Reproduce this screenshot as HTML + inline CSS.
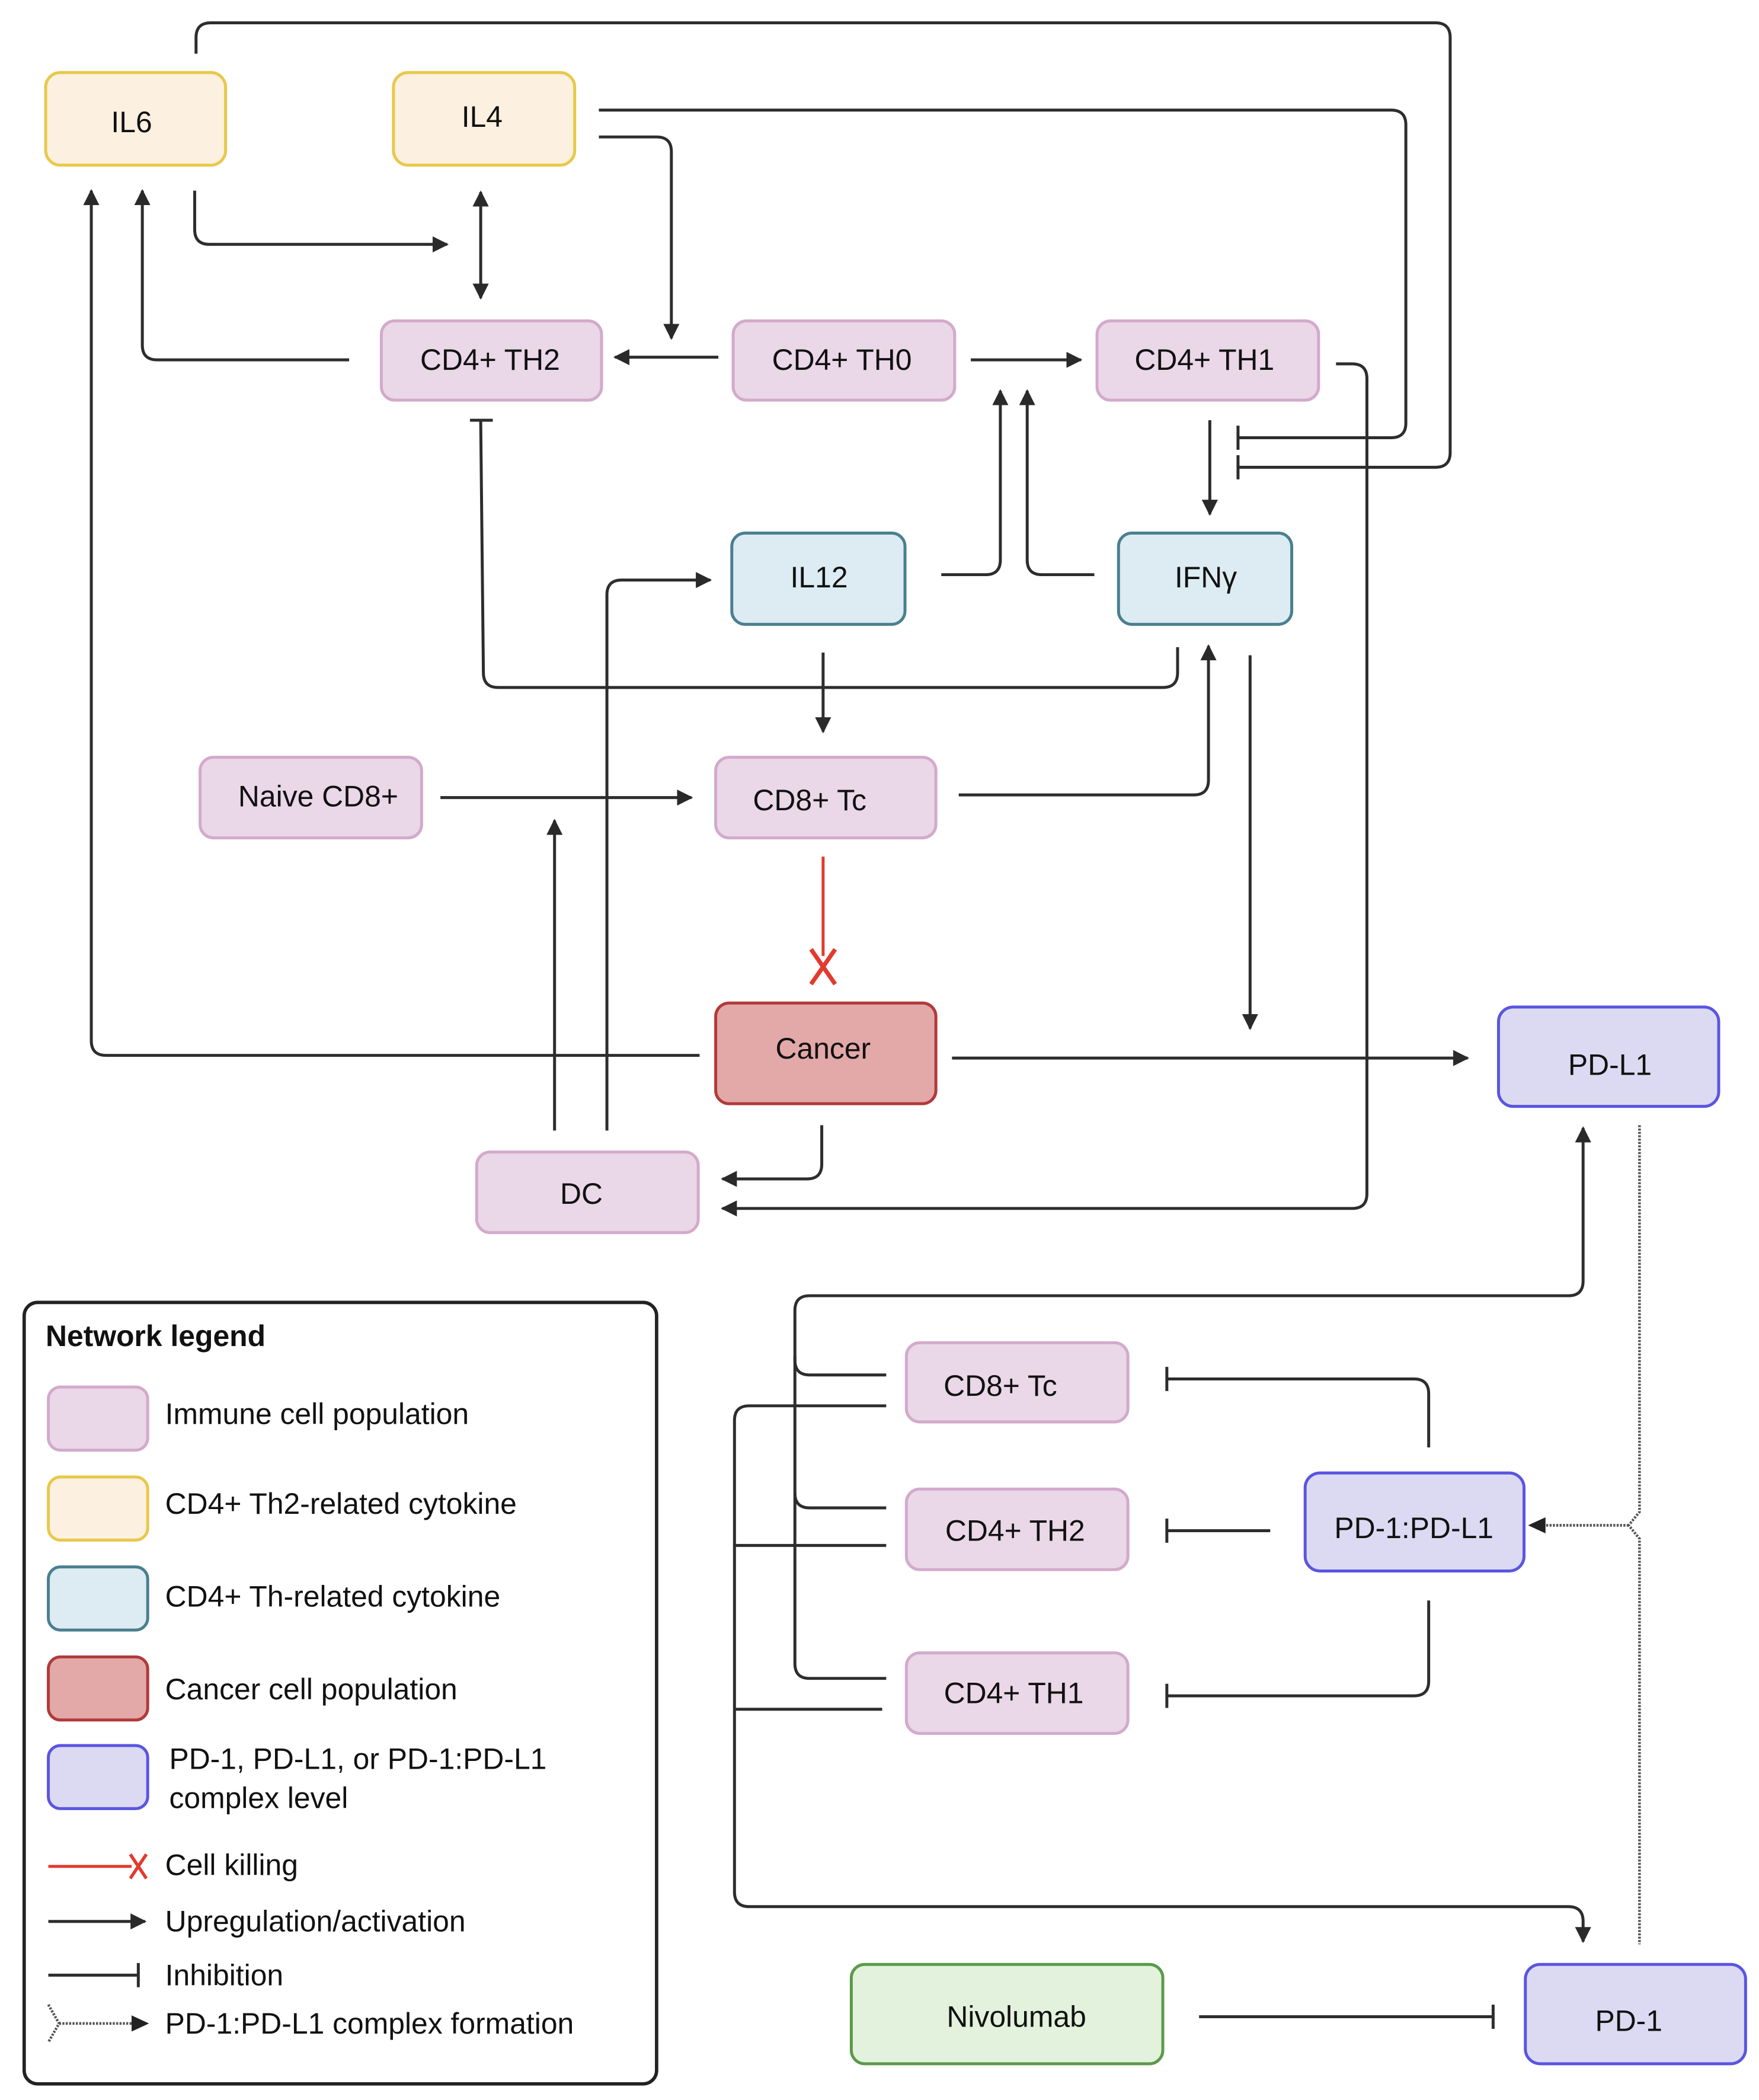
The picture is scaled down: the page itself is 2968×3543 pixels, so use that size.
<!DOCTYPE html>
<html><head><meta charset="utf-8"><style>
html,body{margin:0;padding:0;background:#fff}
svg{display:block}
text{font-family:"Liberation Sans",sans-serif;fill:#111}
</style></head><body>
<svg width="2968" height="3543" viewBox="0 0 1310 1564" preserveAspectRatio="none" xmlns="http://www.w3.org/2000/svg">
<defs>
<marker id="A" viewBox="0 0 10 10" refX="9" refY="5" markerWidth="12" markerHeight="12" orient="auto-start-reverse" markerUnits="userSpaceOnUse"><path d="M0,0L10,5L0,10z" fill="#2a2a2a"/></marker>
</defs>
<style>
.l{fill:none;stroke:#2d2d2d;stroke-width:2.2;stroke-linejoin:round}
.t{font-size:22px;text-anchor:middle;dominant-baseline:central}
.lg{font-size:22px;dominant-baseline:central}
</style>

<g class="l">
<path d="M146,40 V28 Q146,17 157,17 H1069 Q1080,17 1080,28 V337 Q1080,348 1069,348 H922"/>
<path d="M922,339 V357"/>
<path d="M446,82 H1036 Q1047,82 1047,93 V315 Q1047,326 1036,326 H922"/>
<path d="M922,317 V335"/>
<path d="M446,102 H489 Q500,102 500,113 V252" marker-end="url(#A)"/>
<path d="M145,142 V171 Q145,182 156,182 H333" marker-end="url(#A)"/>
<path d="M358,143 V222" marker-start="url(#A)" marker-end="url(#A)"/>
<path d="M260,268 H117 Q106,268 106,257 V142" marker-end="url(#A)"/>
<path d="M535,266 H458" marker-end="url(#A)"/>
<path d="M723,268 H805" marker-end="url(#A)"/>
<path d="M901,313 V383" marker-end="url(#A)"/>
<path d="M995,271 H1007 Q1018,271 1018,282 V889 Q1018,900 1007,900 H538" marker-end="url(#A)"/>
<path d="M701,428 H734 Q745,428 745,417 V291" marker-end="url(#A)"/>
<path d="M815,428 H776 Q765,428 765,417 V291" marker-end="url(#A)"/>
<path d="M877,482 V501 Q877,512 866,512 H371 Q360,512 360,501 L358,313"/>
<path d="M350,313 H367"/>
<path d="M613,486 V545" marker-end="url(#A)"/>
<path d="M328,594 H515" marker-end="url(#A)"/>
<path d="M413,842 V611" marker-end="url(#A)"/>
<path d="M452,842 V443 Q452,432 463,432 H529" marker-end="url(#A)"/>
<path d="M714,592 H889 Q900,592 900,581 V481" marker-end="url(#A)"/>
<path d="M931,488 V766" marker-end="url(#A)"/>
<path d="M521,786 H79 Q68,786 68,775 V142" marker-end="url(#A)"/>
<path d="M709,788 H1093" marker-end="url(#A)"/>
<path d="M612,838 V867 Q612,878 601,878 H538" marker-end="url(#A)"/>
<path d="M660,1024 H603 Q592,1024 592,1013 V976 Q592,965 603,965 H1168 Q1179,965 1179,954 V840" marker-end="url(#A)"/>
<path d="M592,1010 V1239 Q592,1250 603,1250 H660"/>
<path d="M592,1112 Q592,1123 603,1123 H660"/>
<path d="M660,1047 H558 Q547,1047 547,1058 V1409 Q547,1420 558,1420 H1168 Q1179,1420 1179,1431 V1446" marker-end="url(#A)"/>
<path d="M547,1151 H660"/>
<path d="M547,1273 H657"/>
<path d="M1064,1078 V1038 Q1064,1027 1053,1027 H869"/>
<path d="M869,1018 V1036"/>
<path d="M946,1140 H869"/>
<path d="M869,1131 V1149"/>
<path d="M1064,1192 V1252 Q1064,1263 1053,1263 H869"/>
<path d="M869,1254 V1272"/>
<path d="M893,1502 H1112"/>
<path d="M1112,1493 V1511"/>
</g>
<g fill="none" stroke="#555" stroke-width="2" stroke-dasharray="1.5,1">
<path d="M1221,838 V1126 L1213,1136 L1221,1146 V1448"/>
<path d="M1213,1136 H1150"/>
</g>
<path d="M1138,1136 L1151,1130 L1151,1142z" fill="#222"/>
<path d="M613,638 V712" stroke="#e23a2e" stroke-width="2.2" fill="none"/>
<path d="M604,707 L622,733 M622,707 L604,733" stroke="#e23a2e" stroke-width="3.2" fill="none"/>

<g stroke-width="2.2">
<rect x="34" y="54" width="134" height="69" rx="11" fill="#fcf0e0" stroke="#e8c84a"/>
<rect x="293" y="54" width="135" height="69" rx="11" fill="#fcf0e0" stroke="#e8c84a"/>
<rect x="284" y="239" width="164" height="59" rx="10" fill="#ead7e8" stroke="#d3aacb"/>
<rect x="546" y="239" width="165" height="59" rx="10" fill="#ead7e8" stroke="#d3aacb"/>
<rect x="817" y="239" width="165" height="59" rx="10" fill="#ead7e8" stroke="#d3aacb"/>
<rect x="545" y="397" width="129" height="68" rx="10" fill="#dcecf2" stroke="#4a7f8f"/>
<rect x="833" y="397" width="129" height="68" rx="10" fill="#dcecf2" stroke="#4a7f8f"/>
<rect x="149" y="564" width="165" height="60" rx="10" fill="#ead7e8" stroke="#d3aacb"/>
<rect x="533" y="564" width="164" height="60" rx="10" fill="#ead7e8" stroke="#d3aacb"/>
<rect x="533" y="747" width="164" height="75" rx="10" fill="#e3a8a8" stroke="#b03a3a"/>
<rect x="1116" y="750" width="164" height="74" rx="11" fill="#dcdaf2" stroke="#5a55e0"/>
<rect x="355" y="858" width="165" height="60" rx="10" fill="#ead7e8" stroke="#d3aacb"/>
<rect x="675" y="1000" width="165" height="59" rx="10" fill="#ead7e8" stroke="#d3aacb"/>
<rect x="675" y="1109" width="165" height="60" rx="10" fill="#ead7e8" stroke="#d3aacb"/>
<rect x="675" y="1231" width="165" height="60" rx="10" fill="#ead7e8" stroke="#d3aacb"/>
<rect x="972" y="1097" width="163" height="73" rx="11" fill="#dcdaf2" stroke="#5a55e0"/>
<rect x="634" y="1463" width="232" height="74" rx="10" fill="#e3f2dc" stroke="#5a9a4a"/>
<rect x="1136" y="1463" width="164" height="74" rx="11" fill="#dcdaf2" stroke="#5a55e0"/>
</g>
<g class="t">
<text x="98" y="91">IL6</text>
<text x="359" y="87">IL4</text>
<text x="365" y="268">CD4+ TH2</text>
<text x="627" y="268">CD4+ TH0</text>
<text x="897" y="268">CD4+ TH1</text>
<text x="610" y="430">IL12</text>
<text x="898" y="430">IFNγ</text>
<text x="237" y="593">Naive CD8+</text>
<text x="603" y="596">CD8+ Tc</text>
<text x="613" y="781">Cancer</text>
<text x="1199" y="793">PD-L1</text>
<text x="433" y="889">DC</text>
<text x="745" y="1032">CD8+ Tc</text>
<text x="756" y="1140">CD4+ TH2</text>
<text x="755" y="1261">CD4+ TH1</text>
<text x="1053" y="1138">PD-1:PD-L1</text>
<text x="757" y="1502">Nivolumab</text>
<text x="1213" y="1505">PD-1</text>
</g>

<rect x="18" y="970" width="471" height="582" rx="10" fill="#fff" stroke="#222" stroke-width="2.5"/>
<text x="34" y="995" class="lg" style="font-weight:bold">Network legend</text>
<g stroke-width="2.2">
<rect x="36" y="1033" width="74" height="47" rx="9" fill="#ead7e8" stroke="#d3aacb"/>
<rect x="36" y="1100" width="74" height="47" rx="9" fill="#fcf0e0" stroke="#e8c84a"/>
<rect x="36" y="1167" width="74" height="47" rx="9" fill="#dcecf2" stroke="#4a7f8f"/>
<rect x="36" y="1234" width="74" height="47" rx="9" fill="#e3a8a8" stroke="#b03a3a"/>
<rect x="36" y="1300" width="74" height="47" rx="9" fill="#dcdaf2" stroke="#5a55e0"/>
</g>
<g class="lg">
<text x="123" y="1053">Immune cell population</text>
<text x="123" y="1120">CD4+ Th2-related cytokine</text>
<text x="123" y="1189">CD4+ Th-related cytokine</text>
<text x="123" y="1258">Cancer cell population</text>
<text x="126" y="1310">PD-1, PD-L1, or PD-1:PD-L1</text>
<text x="126" y="1339">complex level</text>
<text x="123" y="1389">Cell killing</text>
<text x="123" y="1431">Upregulation/activation</text>
<text x="123" y="1471">Inhibition</text>
<text x="123" y="1507">PD-1:PD-L1 complex formation</text>
</g>
<path d="M36,1390 H98" stroke="#e23a2e" stroke-width="2.2"/>
<path d="M97,1381 L109,1399 M109,1381 L97,1399" stroke="#e23a2e" stroke-width="2.4" fill="none"/>
<path d="M36,1431 H108" class="l" marker-end="url(#A)"/>
<path d="M36,1471 H103 M103,1462 V1480" class="l"/>
<path d="M36,1493 L44,1507 L36,1521 M44,1507 H100" fill="none" stroke="#555" stroke-width="2" stroke-dasharray="1.5,1"/>
<path d="M111,1507 L98,1501 L98,1513z" fill="#222"/>
</svg>
</body></html>
